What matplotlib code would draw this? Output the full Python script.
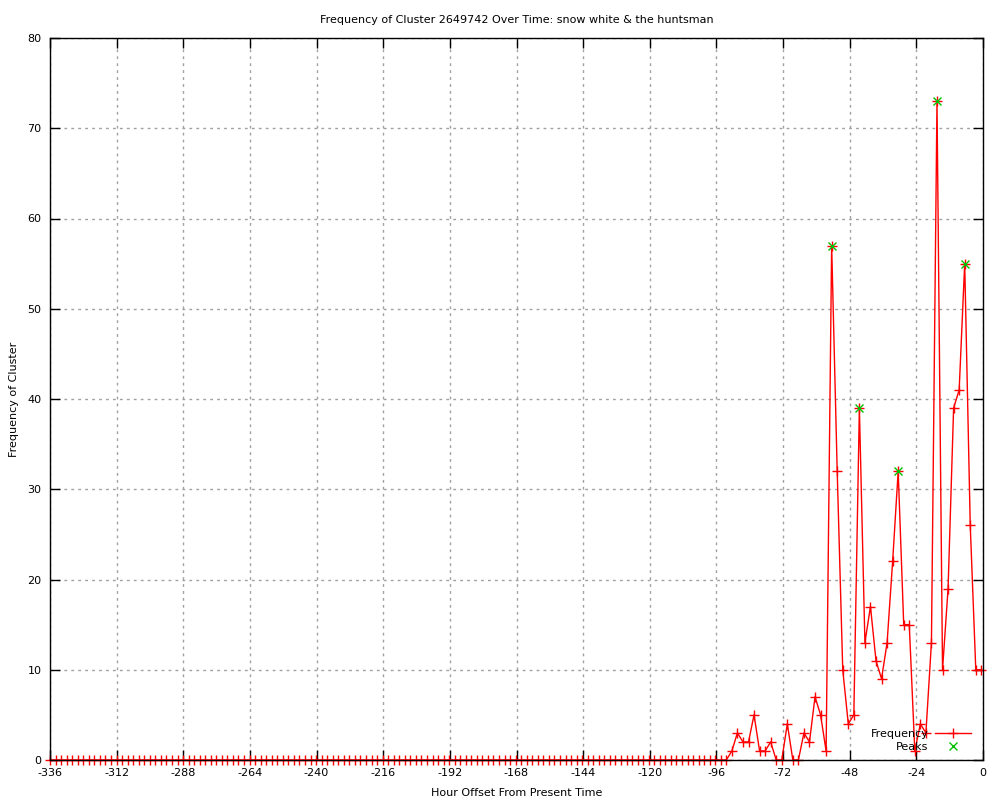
import numpy as np
import matplotlib
matplotlib.use("Agg")
import matplotlib.pyplot as plt

plt.rcParams['axes.unicode_minus'] = False
plt.rcParams['font.family'] = 'DejaVu Sans'
plt.rcParams['font.size'] = 8

title = "Frequency of Cluster 2649742 Over Time: snow white & the huntsman"

# hour offsets (about 2h apart, from -336 up to present)
hours = np.linspace(-336, -0.6, 169)
# cluster frequency at each offset (all zero before ~ -92h)
freq = [0] * 123 + [
    1, 3, 2, 2, 5, 1, 1, 2,
    0, 0, 4, 0, 0, 3, 2, 7, 5, 1,
    57, 32, 10, 4, 5, 39, 13, 17, 11, 9,
    13, 22, 32, 15, 15, 1, 4, 3, 13, 73,
    10, 19, 39, 41, 55, 26, 10, 10,
]
peak_idx = [141, 146, 153, 160, 165]

xticks = list(range(-336, 1, 24))
yticks = list(range(0, 81, 10))

peak_hours = [hours[i] for i in peak_idx]
peak_vals = [freq[i] for i in peak_idx]

fig = plt.figure(figsize=(10, 8), dpi=100)
ax = fig.add_axes([0.05, 0.05, 0.933, 0.9025])

l1, = ax.plot(hours, freq, color='red', lw=1, marker='+', ms=7, mew=1,
              label='Frequency', clip_on=False, zorder=3)
l2, = ax.plot(peak_hours, peak_vals, ls='none', marker='x', color='#00c000',
              ms=6, mew=1, label='Peaks', clip_on=False, zorder=4)

ax.set_xlim(-336, 0)
ax.set_ylim(0, 80)
ax.set_xticks(xticks)
ax.set_yticks(yticks)
ax.tick_params(direction='in', length=7, width=1, top=True, right=True,
               labelsize=8, pad=6)
ax.grid(True, color='#a0a0a0', ls=(0, (2, 3)), lw=1)
ax.set_axisbelow(True)
for s in ax.spines.values():
    s.set_linewidth(1)
    s.set_zorder(5)

ax.set_title(title, fontsize=8, pad=11)
ax.set_xlabel('Hour Offset From Present Time', fontsize=8, labelpad=7)
ax.set_ylabel('Frequency of Cluster', fontsize=8, labelpad=6)

# two one-entry legends so the labels end up right-justified like gnuplot
kw = dict(loc='lower right', frameon=False, markerfirst=False,
          handlelength=3.2, handletextpad=0.6, fontsize=8, borderaxespad=0.3)
leg1 = ax.legend([l1], ['Frequency'], bbox_to_anchor=(0.995, 0.018), **kw)
ax.add_artist(leg1)
ax.legend([l2], ['Peaks'], bbox_to_anchor=(0.995, 0.0), **kw)

fig.savefig('out.png', dpi=100)
